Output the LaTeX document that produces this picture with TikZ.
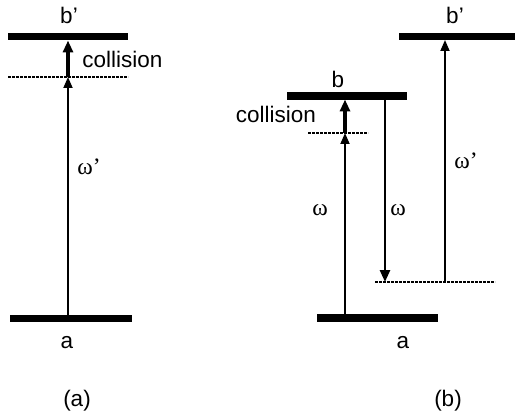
\documentclass[tikz,border=0pt]{standalone}
\usepackage{fontspec}
\setmainfont{Liberation Sans}
\newfontfamily\omfont{Liberation Serif}
\usetikzlibrary{arrows.meta}
\tikzset{
  level/.style={line width=7.5pt},
  virt/.style={line width=2.4pt, dash pattern=on 2.6pt off 1.4pt},
  photon/.style={line width=1.8pt, -{Triangle[width=9pt,length=11pt]}},
  emis/.style={line width=2.6pt, -{Triangle[width=10pt,length=12pt]}},
  coll/.style={line width=3.6pt, -{Triangle[width=10pt,length=12pt]}},
  lbl/.style={font=\fontsize{22.5}{26}\selectfont, inner sep=0pt, anchor=base},
  om/.style={font=\fontsize{23.5}{26}\selectfont\omfont, inner sep=0pt, anchor=base},
}
\begin{document}
\begin{tikzpicture}[x=1pt,y=-1pt]
\useasboundingbox (0,0) rectangle (515,420);
% ---------- panel (a) ----------
\coordinate (bpaL) at (8,36.5);  \coordinate (bpaR) at (128,36.5);
\coordinate (vaL) at (8,77);     \coordinate (vaR) at (128,77);
\coordinate (aaL) at (10,318.5); \coordinate (aaR) at (132,318.5);
\draw[level] (bpaL) -- (bpaR);
\draw[virt] (vaL) -- (vaR);
\draw[level] (aaL) -- (aaR);
\coordinate (a1) at (68,315);
\coordinate (a2) at (68,77);
\coordinate (a3) at (68,40.5);
\draw[photon] (a1) -- (a2);
\draw[coll] (a2) -- (a3);
\node[lbl] (lbpa) at (69,24) {b’};
\node[lbl] (lcolla) at (122.5,68) {collision};
\node[om] (lwpa) at (89,175) {ω’};
\node[lbl] (laa) at (67,348) {a};
\node[lbl] (capa) at (77,406) {(a)};
% ---------- panel (b) ----------
\coordinate (bbL) at (287,96);   \coordinate (bbR) at (407,96);
\coordinate (vbL) at (308,133);  \coordinate (vbR) at (368,133);
\coordinate (bpbL) at (399,36.5);\coordinate (bpbR) at (515,36.5);
\coordinate (v2L) at (375,282);  \coordinate (v2R) at (495,282);
\coordinate (abL) at (317,318);  \coordinate (abR) at (438,318);
\draw[level] (bbL) -- (bbR);
\draw[virt] (vbL) -- (vbR);
\draw[level] (bpbL) -- (bpbR);
\draw[virt] (v2L) -- (v2R);
\draw[level] (abL) -- (abR);
\coordinate (b1) at (345,314.5);
\coordinate (b2) at (345,133);
\coordinate (b3) at (345,99.5);
\draw[photon] (b1) -- (b2);
\draw[coll] (b2) -- (b3);
\coordinate (d1) at (385,99.5);
\coordinate (d2) at (385,282);
\draw[emis] (d1) -- (d2);
\coordinate (u1) at (445,282);
\coordinate (u2) at (445,40);
\draw[photon] (u1) -- (u2);
\node[lbl] (lbb) at (338,88) {b};
\node[lbl] (lbpb) at (455,24) {b’};
\node[lbl] (lcollb) at (276,123) {collision};
\node[om] (lwb1) at (320,215) {ω};
\node[om] (lwb2) at (398,215) {ω};
\node[om] (lwpb) at (466,168) {ω’};
\node[lbl] (lab) at (403,348) {a};
\node[lbl] (capb) at (448,406) {(b)};
\end{tikzpicture}
\end{document}
